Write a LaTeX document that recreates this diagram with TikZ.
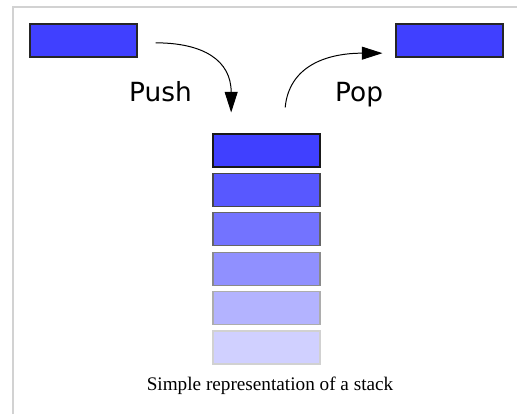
\documentclass[tikz,border=0pt]{standalone}
\usepackage{fontspec}
\setmainfont{Liberation Serif}
\newfontfamily\labelfont{DejaVu Sans}
\usetikzlibrary{arrows.meta}

\tikzset{
  block/.style={draw, line width=0.9pt, inner sep=0pt,
    minimum width=3.21cm, minimum height=0.99cm},
  move/.style={line width=0.85pt,
    -{Triangle[length=17.5pt, width=11pt]}},
  oplabel/.style={font=\labelfont\fontsize{22.5}{26}\selectfont,
    inner sep=0pt, anchor=base west}
}
\definecolor{topblue}{RGB}{64,64,255}

\begin{document}
\begin{tikzpicture}[x=0.03cm, y=-0.03cm]
  \useasboundingbox (0,0) rectangle (517,414);
  \draw[gray!35, line width=1.2pt] (13,414) -- (13,7) -- (517,7);

  % the stack, fading towards the bottom
  \foreach \i/\f/\s in {0/64/90, 1/88/72, 2/115/60, 3/144/46, 4/179/32, 5/208/18} {
    \definecolor{boxfill}{RGB}{\f,\f,255}
    \node[block, fill=boxfill, draw=black!\s!white] (s\i)
      at (266.5, {150.5+39.4*\i}) {};
  }

  \node[block, fill=topblue, draw=black!85!white] (in) at (83.5,40.5) {};
  \node[block, fill=topblue, draw=black!85!white] (out) at (449.5,40.5) {};

  \coordinate (pushfrom) at ([xshift=0.54cm, yshift=-0.07cm]in.east);
  \coordinate (pushto) at ([xshift=-1.06cm, yshift=0.63cm]s0.north);
  \coordinate (popfrom) at ([xshift=0.56cm, yshift=0.78cm]s0.north);
  \coordinate (popto) at ([xshift=-0.39cm, yshift=-0.38cm]out.west);

  \draw[move] (pushfrom) .. controls +(48,0) and +(0,-52) .. (pushto);
  \draw[move] (popfrom) .. controls +(4,-42) and +(-55,0) .. (popto);

  \node[oplabel] (push) at (129,101) {Push};
  \node[oplabel] (pop) at (335,101) {Pop};

  \node[font=\fontsize{16.4}{20}\selectfont, inner sep=0pt, anchor=base]
    (caption) at (270,390) {Simple representation of a stack};
\end{tikzpicture}
\end{document}
